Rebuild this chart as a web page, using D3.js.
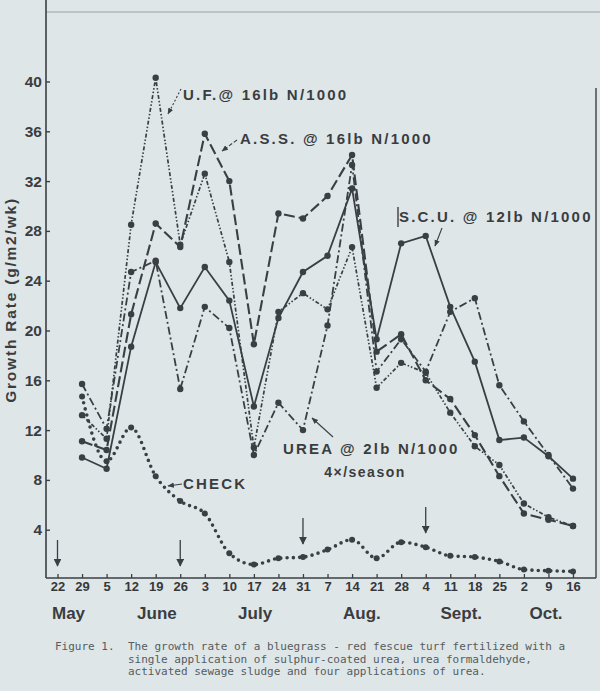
<!DOCTYPE html>
<html>
<head>
<meta charset="utf-8">
<script src="https://cdn.jsdelivr.net/npm/d3@7"></script>
<style>
  html, body { margin: 0; padding: 0; background: #dfe6e8; }
  svg { display: block; }
  .lbl { font-family: "Liberation Sans", Arial, sans-serif; font-weight: bold; fill: #3a3d40; }
</style>
</head>
<body>
<div id="chart"></div>
<script>
// week ticks (May 22 .. Oct 16)
var dates = ["22","29","5","12","19","26","3","10","17","24","31","7","14","21","28","4","11","18","25","2","9","16"];
var months = ["May","June","July","Aug.","Sept.","Oct."];
var monthPos = [0.45, 4.05, 8.05, 12.4, 16.45, 19.9];
var yTicks = [4, 8, 12, 16, 20, 24, 28, 32, 36, 40];

// growth rate, g/m2/wk (first week has no reading)
var scu   = [null, 9.8, 8.9, 18.7, 25.5, 21.8, 25.1, 22.4, 13.9, 21.0, 24.7, 26.0, 31.4, 19.3, 27.0, 27.6, 21.9, 17.5, 11.2, 11.4, 9.9, 8.1];
var ass   = [null, 11.1, 10.4, 21.3, 28.6, 26.7, 35.8, 32.0, 18.9, 29.4, 29.0, 30.8, 34.1, 18.3, 19.7, 16.0, 14.5, 11.6, 8.3, 5.3, 4.8, 4.3];
var uf    = [null, 13.2, 11.3, 28.5, 40.3, 26.9, 32.6, 25.5, 10.6, 21.5, 23.0, 21.7, 26.7, 15.4, 17.4, 16.6, 13.4, 10.7, 9.2, 6.1, 5.0, 4.3];
var urea  = [null, 15.7, 12.1, 24.7, 25.6, 15.3, 21.9, 20.2, 10.0, 14.2, 12.0, 20.4, 33.3, 16.7, 19.3, 16.7, 21.5, 22.6, 15.6, 12.7, 10.0, 7.3];
var check = [null, 14.7, 9.5, 12.2, 8.3, 6.3, 5.3, 2.1, 1.2, 1.7, 1.8, 2.4, 3.2, 1.7, 3.0, 2.6, 1.9, 1.8, 1.45, 0.8, 0.7, 0.65];

// fertilizer application dates (urea) - index into dates
var applied = [0, 5, 10, 15];

var width = 600, height = 691;
var ink = "#3a3f43";

var svg = d3.select("#chart").append("svg")
  .attr("width", width)
  .attr("height", height);

var x = d3.scaleLinear().domain([0, dates.length - 1]).range([57.5, 573]);
var y = d3.scaleLinear().domain([0, 40]).range([579.5, 81.5]);
var axisY = 578;
var axisX = 46;

var defs = svg.append("defs");
defs.append("marker")
  .attr("id", "arr")
  .attr("viewBox", "0 0 10 10")
  .attr("refX", 9).attr("refY", 5)
  .attr("markerWidth", 6).attr("markerHeight", 6)
  .attr("orient", "auto-start-reverse")
  .append("path").attr("d", "M0,1 L10,5 L0,9 Z").attr("fill", ink);
defs.append("marker")
  .attr("id", "arrBig")
  .attr("viewBox", "0 0 10 10")
  .attr("refX", 9).attr("refY", 5)
  .attr("markerWidth", 8).attr("markerHeight", 6)
  .attr("orient", "auto")
  .append("path").attr("d", "M0,0 L10,5 L0,10 Z").attr("fill", ink);

// frame
svg.append("line").attr("x1", axisX).attr("x2", 600).attr("y1", 12).attr("y2", 12)
  .attr("stroke", "#9aa2a6").attr("stroke-width", 1);
svg.append("line").attr("x1", axisX).attr("x2", axisX).attr("y1", 0).attr("y2", axisY)
  .attr("stroke", ink).attr("stroke-width", 1.6);
svg.append("line").attr("x1", axisX).attr("x2", 596).attr("y1", axisY).attr("y2", axisY)
  .attr("stroke", ink).attr("stroke-width", 1.6);
svg.append("line").attr("x1", 596).attr("x2", 596).attr("y1", 88).attr("y2", axisY)
  .attr("stroke", ink).attr("stroke-width", 1.4);

// y axis
var gy = svg.append("g").attr("transform", "translate(" + axisX + ",0)")
  .call(d3.axisLeft(y).tickValues(yTicks).tickSize(-4).tickPadding(4));
gy.select(".domain").remove();
gy.selectAll(".tick line").attr("stroke", ink).attr("stroke-width", 1.4);
gy.selectAll(".tick text")
  .attr("class", "lbl")
  .style("font-size", "15.5px");

// x axis
var gx = svg.append("g").attr("transform", "translate(0," + axisY + ")")
  .call(d3.axisBottom(x).tickValues(d3.range(dates.length)).tickFormat(function(d) { return dates[d]; })
    .tickSize(-4).tickPadding(4));
gx.select(".domain").remove();
gx.selectAll(".tick line").attr("stroke", ink).attr("stroke-width", 1.3);
gx.selectAll(".tick text")
  .style("font-family", "\"Liberation Sans\", Arial, sans-serif")
  .style("font-size", "13px")
  .style("font-weight", "600")
  .style("fill", "#34383b");

// months
svg.selectAll("text.month")
  .data(months)
  .enter().append("text")
  .attr("class", "lbl month")
  .attr("x", function(d, i) { return x(monthPos[i]); })
  .attr("y", 619)
  .attr("text-anchor", "middle")
  .style("font-size", "17px")
  .text(function(d) { return d; });

// y title
svg.append("text")
  .attr("class", "lbl")
  .attr("transform", "translate(16,300) rotate(-90)")
  .attr("text-anchor", "middle")
  .style("font-size", "15.5px")
  .style("letter-spacing", "1.8px")
  .text("Growth Rate (g/m2/wk)");

// series
var series = [
  { name: "scu",  vals: scu,  dash: null,              w: 1.8 },
  { name: "ass",  vals: ass,  dash: "11,4",            w: 2.1 },
  { name: "uf",   vals: uf,   dash: "4,2,1.5,2,1.5,2", w: 1.7 },
  { name: "urea", vals: urea, dash: "8,3,2,3",         w: 1.8 }
];

var line = d3.line()
  .defined(function(d) { return d != null; })
  .x(function(d, i) { return x(i); })
  .y(function(d) { return y(d); });

series.forEach(function(s) {
  svg.append("path")
    .datum(s.vals)
    .attr("fill", "none")
    .attr("stroke", ink)
    .attr("stroke-width", s.w)
    .attr("stroke-dasharray", s.dash)
    .attr("d", line);

  svg.selectAll("circle." + s.name)
    .data(s.vals.map(function(v, i) { return { i: i, v: v }; }).filter(function(d) { return d.v != null; }))
    .enter().append("circle")
    .attr("class", s.name)
    .attr("cx", function(d) { return x(d.i); })
    .attr("cy", function(d) { return y(d.v); })
    .attr("r", 3.2)
    .attr("fill", ink);
});

// check: heavy dotted smooth curve
var checkLine = d3.line()
  .defined(function(d) { return d != null; })
  .curve(d3.curveMonotoneX)
  .x(function(d, i) { return x(i); })
  .y(function(d) { return y(d); });

svg.append("path")
  .datum(check)
  .attr("fill", "none")
  .attr("stroke", ink)
  .attr("stroke-width", 3.6)
  .attr("stroke-linecap", "round")
  .attr("stroke-dasharray", "0,6.3")
  .attr("d", checkLine);

svg.selectAll("circle.check")
  .data(check.map(function(v, i) { return { i: i, v: v }; }).filter(function(d) { return d.v != null; }))
  .enter().append("circle")
  .attr("class", "check")
  .attr("cx", function(d) { return x(d.i); })
  .attr("cy", function(d) { return y(d.v); })
  .attr("r", 3)
  .attr("fill", ink);

// application arrows
var arrowTop = [540, 540, 518, 507];
svg.selectAll("line.app")
  .data(applied)
  .enter().append("line")
  .attr("class", "app")
  .attr("x1", function(d) { return x(d); })
  .attr("x2", function(d) { return x(d); })
  .attr("y1", function(d, i) { return arrowTop[i]; })
  .attr("y2", function(d, i) { return arrowTop[i] + 26; })
  .attr("stroke", ink)
  .attr("stroke-width", 1.3)
  .attr("marker-end", "url(#arrBig)");

// labels with pointers
var notes = [
  { t: "U.F.@ 16lb N/1000",    x: 183, y: 100, p: [181, 89, 168, 114], dash: "2,2" },
  { t: "A.S.S. @ 16lb N/1000", x: 240, y: 144, p: [237, 140, 222, 151], dash: "4,2" },
  { t: "S.C.U. @ 12lb N/1000", x: 399, y: 222, p: [442, 228, 435, 246], dash: null },
  { t: "UREA @ 2lb N/1000",    x: 283, y: 454, p: [333, 437, 312, 418], dash: null },
  { t: "CHECK",                x: 183, y: 489, p: [182, 484, 168, 486], dash: null }
];

notes.forEach(function(n) {
  svg.append("text")
    .attr("class", "lbl")
    .attr("x", n.x).attr("y", n.y)
    .style("font-size", "15px")
    .style("letter-spacing", "2.2px")
    .text(n.t);
  svg.append("line")
    .attr("x1", n.p[0]).attr("y1", n.p[1])
    .attr("x2", n.p[2]).attr("y2", n.p[3])
    .attr("stroke", ink)
    .attr("stroke-width", 1.1)
    .attr("stroke-dasharray", n.dash)
    .attr("marker-end", "url(#arr)");
});

svg.append("text")
  .attr("class", "lbl")
  .attr("x", 365).attr("y", 477)
  .attr("text-anchor", "middle")
  .style("font-size", "14px")
  .style("letter-spacing", "1.5px")
  .text("4×/season");

// cursor mark before S.C.U.
svg.append("line").attr("x1", 398).attr("x2", 398).attr("y1", 207).attr("y2", 227)
  .attr("stroke", "#222").attr("stroke-width", 1.2);

// caption
var caption = [
  ["Figure 1.", "The growth rate of a bluegrass - red fescue turf fertilized with a"],
  ["", "single application of sulphur-coated urea, urea formaldehyde,"],
  ["", "activated sewage sludge and four applications of urea."]
];
caption.forEach(function(c, i) {
  var ty = 650 + i * 12.5;
  svg.append("text").attr("x", 55).attr("y", ty)
    .style("font-family", "\"DejaVu Sans Mono\", monospace").style("font-size", "11px")
    .style("fill", "#555c60").text(c[0]);
  svg.append("text").attr("x", 128).attr("y", ty)
    .style("font-family", "\"DejaVu Sans Mono\", monospace").style("font-size", "11px")
    .style("fill", "#555c60").text(c[1]);
});
</script>
</body>
</html>
